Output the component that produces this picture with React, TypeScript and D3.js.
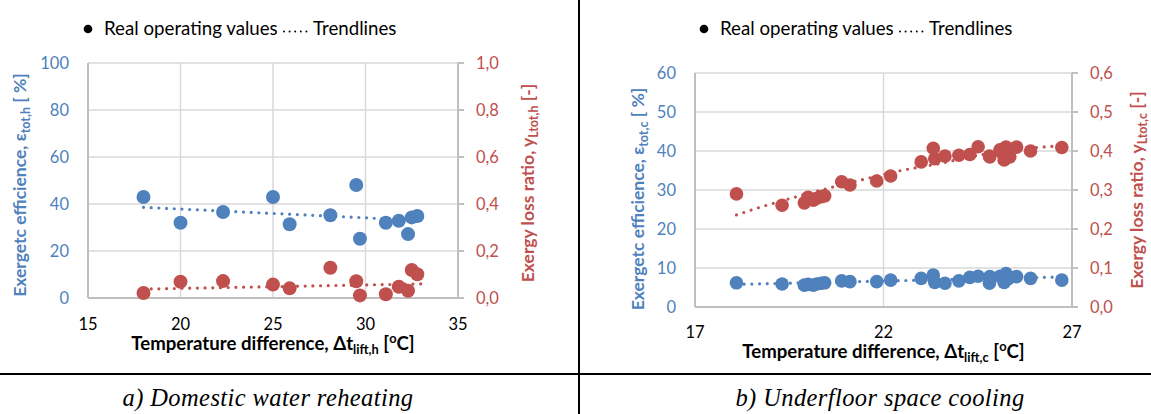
import * as d3 from 'd3';

// a) Domestic water reheating: lift [°C], exergetic efficiency [%], exergy loss ratio [-]
const dhwLift = [18, 20, 22.3, 25, 25.9, 28.1, 29.5, 29.7, 31.1, 31.8, 32.3, 32.5, 32.8];
const dhwEff = [43, 32, 36.6, 43, 31.4, 35.2, 48.1, 25.2, 32, 32.9, 27.2, 34.3, 34.9];
const dhwLoss = [0.021, 0.069, 0.072, 0.057, 0.041, 0.129, 0.071, 0.011, 0.016, 0.048, 0.031, 0.119, 0.101];
const dhwEffTrend: [number, number][] = [[18, 38.6], [33, 33.0]];
const dhwLossTrend: [number, number][] = [[18, 0.038], [33, 0.06]];

// b) Underfloor space cooling
const ufcLift = [18.1, 19.31, 19.9, 20.0, 20.14, 20.23, 20.35, 20.44, 20.89, 21.11, 21.82, 22.19, 23.0, 23.32, 23.36, 23.63, 24.0, 24.29, 24.51, 24.81, 24.82, 25.09, 25.15, 25.2, 25.25, 25.3, 25.35, 25.53, 25.9, 26.73];
const ufcEff = [6.2, 5.9, 5.6, 5.8, 5.6, 5.9, 6.1, 6.2, 6.7, 6.5, 6.5, 6.9, 7.35, 8.2, 6.3, 6.1, 6.7, 7.6, 7.9, 6.1, 7.8, 7.9, 7.5, 6.3, 8.6, 7.2, 7.6, 7.8, 7.35, 6.9];
const ufcLoss = [0.29, 0.261, 0.267, 0.281, 0.274, 0.279, 0.283, 0.285, 0.321, 0.313, 0.323, 0.336, 0.372, 0.407, 0.38, 0.387, 0.389, 0.391, 0.411, 0.387, 0.385, 0.403, 0.395, 0.377, 0.41, 0.395, 0.385, 0.41, 0.4, 0.409];
const ufcEffTrend: [number, number][] = [[18.1, 5.8], [26.7, 7.7]];
const ufcLossTrend: [number, number][] = [[18.1, 0.236], [18.7, 0.255], [19.7, 0.283], [20.67, 0.308], [21.46, 0.327], [22.52, 0.351], [23.5, 0.368], [24.3, 0.385], [26.33, 0.411], [26.7, 0.413]];

const dhwXTicks = [15, 20, 25, 30, 35];
const dhwYTicks = [0, 20, 40, 60, 80, 100];
const dhwY2Ticks = [0, 0.2, 0.4, 0.6, 0.8, 1.0];
const ufcXTicks = [17, 22, 27];
const ufcYTicks = [0, 10, 20, 30, 40, 50, 60];
const ufcY2Ticks = [0, 0.1, 0.2, 0.3, 0.4, 0.5, 0.6];

const BLUE = '#4F81BD';
const RED = '#C0504D';
const GRID = '#D9D9D9';
const AXIS = '#BFBFBF';
const FONT = 'Lato, "Open Sans", sans-serif';

const commaFmt = (v: number) => d3.format('.1f')(v).replace('.', ',');

interface ChartProps {
  box: { left: number; right: number; top: number; bottom: number };
  xDomain: [number, number];
  yDomain: [number, number];
  y2Domain: [number, number];
  xTicks: number[];
  xGrid: number[];
  yTicks: number[];
  y2Ticks: number[];
  lift: number[];
  eff: number[];
  loss: number[];
  effTrend: [number, number][];
  lossTrend: [number, number][];
  curved: boolean;
  r: number;
  sub: string;
  xLabelY: number;
  xTitleY: number;
  yTitle: { x: number; y: number };
  y2Title: { x: number; y: number };
  legendX: number;
  caption: string;
  captionX: number;
}

function Chart(p: ChartProps) {
  const x = d3.scaleLinear().domain(p.xDomain).range([p.box.left, p.box.right]);
  const y = d3.scaleLinear().domain(p.yDomain).range([p.box.bottom, p.box.top]);
  const y2 = d3.scaleLinear().domain(p.y2Domain).range([p.box.bottom, p.box.top]);

  const effLine = d3.line<[number, number]>().x((d) => x(d[0])).y((d) => y(d[1]));
  const lossLine = d3
    .line<[number, number]>()
    .x((d) => x(d[0]))
    .y((d) => y2(d[1]))
    .curve(p.curved ? d3.curveMonotoneX : d3.curveLinear);

  const dotted = { fill: 'none', strokeWidth: 3.2, strokeLinecap: 'round' as const, strokeDasharray: '0 7.7' };
  const lx = p.legendX;

  return (
    <g fontFamily={FONT}>
      {/* legend */}
      <circle cx={lx} cy={29} r={4.3} fill="#000" />
      <text x={lx + 16} y={35} fontSize={18.7} fill="#000">Real operating values</text>
      <line x1={lx + 196} x2={lx + 219} y1={31.5} y2={31.5} stroke="#000" {...dotted} strokeWidth={2} strokeDasharray="0 5.6" />
      <text x={lx + 225} y={35} fontSize={18.7} fill="#000">Trendlines</text>

      {/* grid */}
      {p.yTicks.map((t) => (
        <line key={'gy' + t} x1={p.box.left} x2={p.box.right} y1={y(t)} y2={y(t)} stroke={GRID} strokeWidth={1.5} />
      ))}
      {p.xGrid.map((t) => (
        <line key={'gx' + t} x1={x(t)} x2={x(t)} y1={p.box.top} y2={p.box.bottom} stroke={GRID} strokeWidth={1.5} />
      ))}

      {/* axes */}
      <line x1={p.box.left} x2={p.box.left} y1={p.box.top} y2={p.box.bottom} stroke={AXIS} strokeWidth={2} />
      <line x1={p.box.right} x2={p.box.right} y1={p.box.top} y2={p.box.bottom} stroke={AXIS} strokeWidth={2} />
      <line x1={p.box.left} x2={p.box.right} y1={p.box.bottom} y2={p.box.bottom} stroke={AXIS} strokeWidth={2} />
      {p.y2Ticks.map((t) => (
        <line key={'t2' + t} x1={p.box.right} x2={p.box.right + 6} y1={y2(t)} y2={y2(t)} stroke={AXIS} strokeWidth={2} />
      ))}

      {/* tick labels */}
      {p.yTicks.map((t) => (
        <text key={'ly' + t} x={p.box.left - 19} y={y(t)} dy="0.36em" textAnchor="end" fontSize={16.5} fill={BLUE}>{t}</text>
      ))}
      {p.y2Ticks.map((t) => (
        <text key={'ly2' + t} x={p.box.right + 18} y={y2(t)} dy="0.36em" textAnchor="start" fontSize={16.5} fill={RED}>{commaFmt(t)}</text>
      ))}
      {p.xTicks.map((t) => (
        <text key={'lx' + t} x={x(t)} y={p.xLabelY} textAnchor="middle" fontSize={16.5} fill="#000">{t}</text>
      ))}

      {/* axis titles */}
      <text x={(p.box.left + p.box.right) / 2} y={p.xTitleY} textAnchor="middle" fontSize={18.6} fontWeight="bold" fill="#000">
        Temperature difference, Δt<tspan fontSize={12.8} dy={4}>{'lift,' + p.sub}</tspan>
        <tspan dy={-4}> [</tspan><tspan fontSize={12.8} dy={-7}>o</tspan><tspan dy={7}>C]</tspan>
      </text>
      <text transform={`translate(${p.yTitle.x},${p.yTitle.y}) rotate(-90)`} textAnchor="middle" dy="0.35em" fontSize={17.5} fontWeight="bold" fill={BLUE}>
        Exergetc efficience, ε<tspan fontSize={12.5} dy={4}>{'tot,' + p.sub}</tspan><tspan dy={-4}> [ %]</tspan>
      </text>
      <text transform={`translate(${p.y2Title.x},${p.y2Title.y}) rotate(-90)`} textAnchor="middle" dy="0.35em" fontSize={17.5} fontWeight="bold" fill={RED}>
        Exergy loss ratio, y<tspan fontSize={12.5} dy={4}>{'Ltot,' + p.sub}</tspan><tspan dy={-4}> [-]</tspan>
      </text>

      {/* trendlines */}
      <path d={effLine(p.effTrend) || ''} stroke={BLUE} {...dotted} />
      <path d={lossLine(p.lossTrend) || ''} stroke={RED} {...dotted} />

      {/* points */}
      {p.lift.map((v, i) => (
        <circle key={'e' + i} cx={x(v)} cy={y(p.eff[i])} r={p.r} fill={BLUE} />
      ))}
      {p.lift.map((v, i) => (
        <circle key={'l' + i} cx={x(v)} cy={y2(p.loss[i])} r={p.r} fill={RED} />
      ))}

      {/* caption */}
      <text x={p.captionX} y={406} textAnchor="middle" fontFamily='"Liberation Serif", "DejaVu Serif", serif' fontStyle="italic" fontSize={24.5} letterSpacing={0.4} fill="#000">
        {p.caption}
      </text>
    </g>
  );
}

export default function App() {
  return (
    <svg width={1151} height={414} style={{ position: 'absolute', left: 0, top: 0, background: '#fff' }}>
      <rect width={1151} height={414} fill="#fff" />
      <Chart
        box={{ left: 88, right: 458, top: 63, bottom: 298 }}
        xDomain={[15, 35]}
        yDomain={[0, 100]}
        y2Domain={[0, 1]}
        xTicks={dhwXTicks}
        xGrid={dhwXTicks.slice(1, -1)}
        yTicks={dhwYTicks}
        y2Ticks={dhwY2Ticks}
        lift={dhwLift}
        eff={dhwEff}
        loss={dhwLoss}
        effTrend={dhwEffTrend}
        lossTrend={dhwLossTrend}
        curved={false}
        r={7}
        sub="h"
        xLabelY={330}
        xTitleY={350}
        yTitle={{ x: 20, y: 185 }}
        y2Title={{ x: 528, y: 183 }}
        legendX={88}
        caption="a) Domestic water reheating"
        captionX={268}
      />
      <Chart
        box={{ left: 695, right: 1072, top: 73, bottom: 307 }}
        xDomain={[17, 27]}
        yDomain={[0, 60]}
        y2Domain={[0, 0.6]}
        xTicks={ufcXTicks}
        xGrid={ufcXTicks.slice(1, -1)}
        yTicks={ufcYTicks}
        y2Ticks={ufcY2Ticks}
        lift={ufcLift}
        eff={ufcEff}
        loss={ufcLoss}
        effTrend={ufcEffTrend}
        lossTrend={ufcLossTrend}
        curved={true}
        r={6.8}
        sub="c"
        xLabelY={338}
        xTitleY={358}
        yTitle={{ x: 638, y: 199 }}
        y2Title={{ x: 1137, y: 190 }}
        legendX={704}
        caption="b) Underfloor space cooling"
        captionX={880}
      />
      {/* table borders */}
      <line x1={579} x2={579} y1={0} y2={414} stroke="#000" strokeWidth={2} />
      <line x1={0} x2={1151} y1={374} y2={374} stroke="#000" strokeWidth={2} />
    </svg>
  );
}
